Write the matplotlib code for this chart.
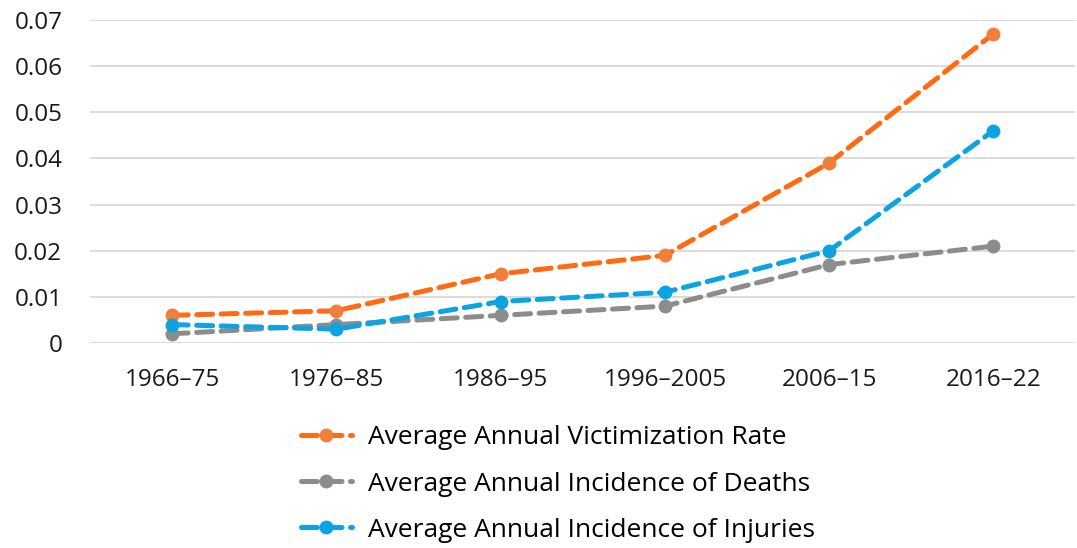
import numpy as np
import matplotlib.pyplot as plt

periods = ["1966\u201375", "1976\u201385", "1986\u201395", "1996\u20132005", "2006\u201315", "2016\u201322"]
victimization = [0.006, 0.007, 0.015, 0.019, 0.039, 0.067]
deaths = [0.002, 0.004, 0.006, 0.008, 0.017, 0.021]
injuries = [0.004, 0.003, 0.009, 0.011, 0.020, 0.046]

series = [
    ("Average Annual Victimization Rate", victimization, "#FF6A13", "#F07F3C"),
    ("Average Annual Incidence of Deaths", deaths, "#8C8C8C", "#8C8C8C"),
    ("Average Annual Incidence of Injuries", injuries, "#0CA3E3", "#0CA3E3"),
]

plt.rcParams["font.family"] = ["Open Sans", "DejaVu Sans"]

fig = plt.figure(figsize=(10.77, 5.48), dpi=100)
ax = fig.add_axes([0.0836, 0.374, 0.915, 0.5895])

x = np.arange(len(periods))
for label, vals, col, mcol in series:
    ax.plot(x, vals, color=col, lw=3.6, dashes=(3.2, 1.7), dash_capstyle="round",
            marker="o", ms=9, mfc=mcol, mec=mcol, label=label)

ax.set_xlim(-0.5, len(periods) - 0.5)
ax.set_ylim(0, 0.07)
ax.set_yticks(np.arange(0, 0.0701, 0.01))
ax.set_yticklabels(["0"] + ["%.2f" % v for v in np.arange(0.01, 0.0701, 0.01)])
ax.set_xticks(x)
ax.set_xticklabels(periods)
ax.tick_params(axis="both", length=0, labelsize=17.5, colors="#1a1a1a")
ax.tick_params(axis="x", pad=18)
ax.tick_params(axis="y", pad=20)
ax.grid(axis="y", color="#D9D9D9", lw=1.3)
ax.set_axisbelow(True)
for s in ax.spines.values():
    s.set_visible(False)

leg = fig.legend(loc="upper center", bbox_to_anchor=(0.518, 0.243), ncol=1, frameon=False,
                 fontsize=19, handlelength=1.95, handletextpad=0.6, labelspacing=0.8,
                 borderaxespad=0)

fig.savefig("out.png", dpi=100)
